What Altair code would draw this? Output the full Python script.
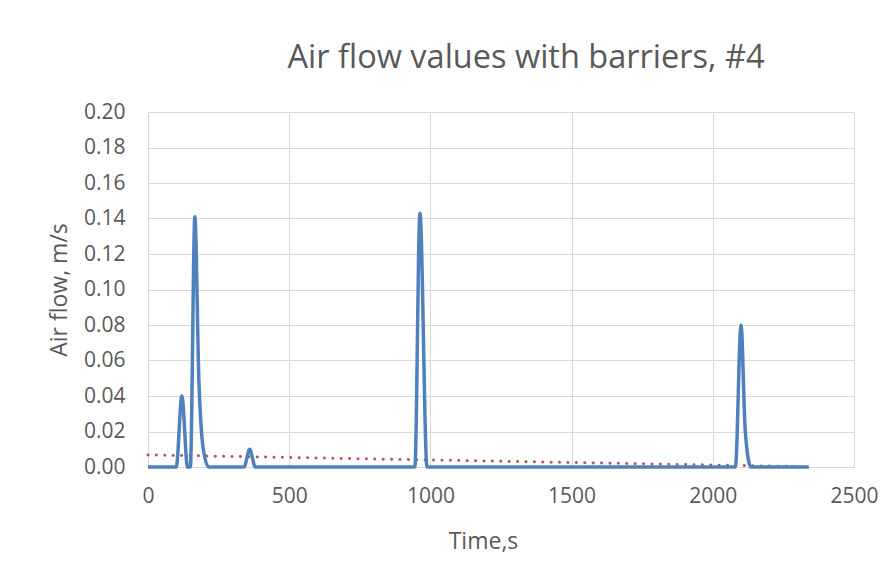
import altair as alt
import pandas as pd

# Air flow series (time in s, flow in m/s)
times = [0, 100, 120, 140, 150, 166, 180, 195, 215, 340, 360, 380,
         945, 963, 988, 1000, 2080, 2100, 2115, 2135, 2150, 2340]
flow = [0, 0, 0.040, 0, 0, 0.141, 0.050, 0.011, 0, 0, 0.010, 0,
        0, 0.143, 0, 0, 0, 0.080, 0.020, 0, 0, 0]

# Trend line endpoints
trend_t = [0, 2320]
trend_v = [0.0068, 0.0002]

x_ticks = [0, 500, 1000, 1500, 2000, 2500]
y_ticks = [round(i * 0.02, 2) for i in range(11)]

df = pd.DataFrame({"t": times, "v": flow})
tr = pd.DataFrame({"t": trend_t, "v": trend_v})

FONT = "Open Sans"
TXT = "#595959"

xs = alt.X("t:Q", scale=alt.Scale(domain=[0, 2500], nice=False),
           axis=alt.Axis(values=x_ticks, title="Time,s", format="d",
                         titleX=335, titlePadding=24, labelFlush=False,
                         labelPadding=18))
ys = alt.Y("v:Q", scale=alt.Scale(domain=[0, 0.2], nice=False),
           axis=alt.Axis(values=y_ticks, format=".2f", title="Air flow, m/s",
                         titlePadding=12, labelOverlap=False, labelPadding=23))

line = alt.Chart(df).mark_line(interpolate="monotone", color="#4f81bd",
                               strokeWidth=3.5).encode(x=xs, y=ys)
trend = alt.Chart(tr).mark_line(color="#c0504d", strokeWidth=3,
                                strokeDash=[0.1, 8.3], strokeCap="round").encode(
    x=xs, y=ys)

chart = alt.layer(trend, line).properties(
    width=706, height=355,
    title=alt.TitleParams("Air flow values with barriers, #4", fontSize=32.5,
                          font=FONT, color=TXT, fontWeight="normal",
                          anchor="middle", dx=25, offset=27),
    autosize=alt.AutoSizeParams(type="none"),
    padding={"left": 140, "top": 104, "right": 30, "bottom": 90},
).configure_axis(
    labelFont=FONT, labelFontSize=21, labelColor=TXT,
    titleFont=FONT, titleFontSize=23, titleColor=TXT, titleFontWeight="normal",
    gridColor="#d9d9d9", gridWidth=1, domainColor="#d9d9d9",
    ticks=False,
).configure_view(stroke=None)

chart.save("out.html", embed_options={"renderer": "svg", "actions": False})
